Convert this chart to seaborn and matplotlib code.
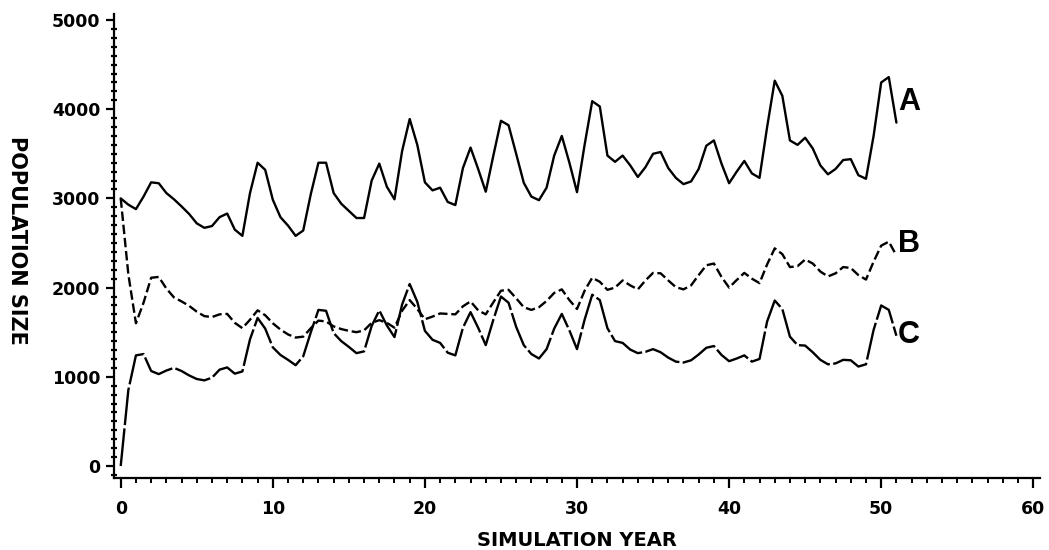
import numpy as np
import pandas as pd
import matplotlib
matplotlib.use("Agg")
import matplotlib.pyplot as plt
from matplotlib.ticker import MultipleLocator
import seaborn as sns

# Simulated population size, sampled every half year from year 0 to 51
years = np.arange(0, 51.25, 0.5)

pop_a = [3000, 2930, 2880, 3020, 3180, 3170, 3060, 2990, 2910, 2825,
         2720, 2670, 2690, 2790, 2830, 2650, 2580, 3060, 3400, 3320,
         2985, 2790, 2695, 2580, 2640, 3050, 3400, 3400, 3060, 2940,
         2860, 2780, 2780, 3200, 3390, 3130, 2990, 3530, 3890, 3600,
         3180, 3090, 3120, 2960, 2925, 3340, 3570, 3330, 3075, 3480,
         3870, 3820, 3500, 3175, 3020, 2980, 3120, 3480, 3700, 3400,
         3070, 3600, 4090, 4030, 3480, 3410, 3480, 3370, 3240, 3350,
         3500, 3520, 3340, 3230, 3160, 3190, 3330, 3590, 3650, 3390,
         3170, 3300, 3420, 3280, 3230, 3800, 4320, 4150, 3650, 3600,
         3680, 3560, 3370, 3270, 3330, 3430, 3440, 3260, 3220, 3700,
         4300, 4360, 3850]

pop_b = [3000, 2150, 1600, 1830, 2110, 2120, 1990, 1890, 1845, 1795,
         1730, 1680, 1670, 1700, 1705, 1605, 1545, 1640, 1745, 1690,
         1600, 1530, 1475, 1440, 1450, 1545, 1630, 1620, 1565, 1535,
         1515, 1500, 1520, 1605, 1635, 1605, 1550, 1740, 1860, 1760,
         1645, 1675, 1710, 1705, 1700, 1790, 1845, 1745, 1700, 1835,
         1965, 1975, 1880, 1780, 1750, 1780, 1850, 1940, 1980, 1860,
         1760, 1965, 2110, 2065, 1975, 2000, 2080, 2025, 1980, 2080,
         2165, 2160, 2080, 2005, 1980, 2025, 2140, 2250, 2270, 2120,
         2000, 2085, 2165, 2100, 2050, 2260, 2440, 2375, 2230, 2240,
         2315, 2270, 2180, 2125, 2160, 2230, 2220, 2140, 2090, 2290,
         2470, 2515, 2360]

pop_c = [0, 850, 1240, 1255, 1065, 1030, 1070, 1100, 1065, 1015,
         975, 960, 990, 1080, 1105, 1035, 1060, 1420, 1660, 1540,
         1330, 1245, 1190, 1130, 1230, 1500, 1750, 1740, 1490, 1400,
         1335, 1265, 1285, 1570, 1745, 1575, 1445, 1810, 2040, 1840,
         1515, 1415, 1380, 1270, 1240, 1550, 1725, 1550, 1355, 1640,
         1900, 1830, 1560, 1355, 1255, 1205, 1310, 1540, 1705, 1520,
         1310, 1640, 1920, 1860, 1545, 1400, 1380, 1305, 1265, 1280,
         1310, 1275, 1215, 1170, 1160, 1185, 1250, 1325, 1345, 1245,
         1175, 1205, 1240, 1170, 1200, 1620, 1855, 1760, 1450, 1355,
         1350, 1275, 1190, 1140, 1150, 1190, 1185, 1115, 1140, 1525,
         1800, 1750, 1460]

series_names = ["A", "B", "C"]
x_ticks = [0, 10, 20, 30, 40, 50, 60]
y_ticks = [0, 1000, 2000, 3000, 4000, 5000]

df = pd.concat([
    pd.DataFrame({"year": years, "size": vals, "series": name})
    for name, vals in zip(series_names, [pop_a, pop_b, pop_c])
], ignore_index=True)

sns.set_theme(style="ticks")
plt.rcParams["font.family"] = ["DejaVu Sans"]

fig = plt.figure(figsize=(10.49, 5.5), dpi=100)
ax = fig.add_axes([0.1087, 0.1315, 0.8827, 0.843])

sns.lineplot(data=df, x="year", y="size", style="series",
             dashes={"A": "", "B": (4, 1.6), "C": (16, 1.4)},
             color="black", linewidth=1.7, legend=False, ax=ax,
             estimator=None, sort=False)

ax.set_xlim(-0.44, 60.44)
ax.set_ylim(-131, 5067)
ax.set_xticks(x_ticks)
ax.set_yticks(y_ticks)
ax.set_xticklabels([str(t) for t in x_ticks])
ax.set_yticklabels([str(t) for t in y_ticks])
ax.xaxis.set_minor_locator(MultipleLocator(1))
ax.yaxis.set_minor_locator(MultipleLocator(100))

for side in ("top", "right"):
    ax.spines[side].set_visible(False)
for side in ("left", "bottom"):
    ax.spines[side].set_linewidth(1.6)
    ax.spines[side].set_color("black")

ax.tick_params(axis="x", which="major", direction="out", length=7, width=1.6,
               pad=9, labelsize=12.5, colors="black")
ax.tick_params(axis="x", which="minor", direction="out", length=3.5, width=1.4,
               colors="black")
ax.tick_params(axis="y", which="major", direction="out", length=6, width=1.6,
               pad=4, labelsize=12.5, colors="black")
ax.tick_params(axis="y", which="minor", direction="inout", length=5, width=1.6,
               colors="black")
for lab in ax.get_xticklabels() + ax.get_yticklabels():
    lab.set_fontweight("bold")

ax.set_xlabel("")
ax.set_ylabel("")
fig.text(577 / 1049, 1 - 540 / 550, "SIMULATION YEAR", ha="center", va="center",
         fontsize=14, fontweight="bold", color="black")
fig.text(17 / 1049, 1 - 240 / 550, "POPULATION SIZE", ha="center", va="center",
         rotation=270, fontsize=15, fontweight="bold", color="black")

# Curve labels just past the last simulated year
label_y = {"A": 4080, "B": 2490, "C": 1470}
for name in series_names:
    ax.text(years[-1] + 0.1, label_y[name], name, ha="left", va="center",
            fontsize=22, fontweight="bold", family="Liberation Sans",
            color="black")

fig.savefig("out.png", dpi=100, facecolor="white")
